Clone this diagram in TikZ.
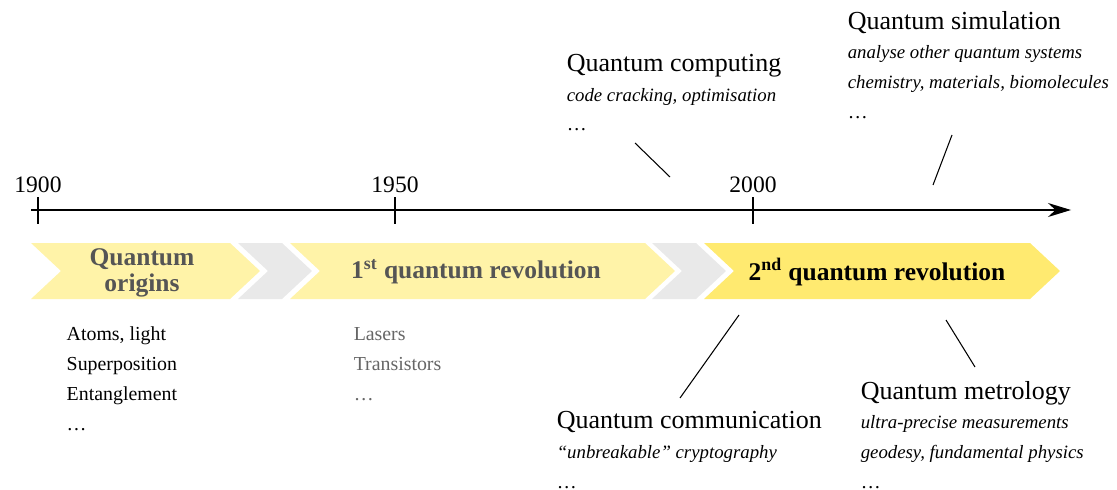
\documentclass[tikz,border=0pt]{standalone}
\usepackage{fontspec}
\setmainfont{Liberation Serif}
\usepackage[svgnames]{xcolor}
\usetikzlibrary{arrows.meta}
\definecolor{paleyellow}{HTML}{FFF3A8}
\definecolor{brightyellow}{HTML}{FFEA70}
\definecolor{chevgray}{HTML}{E9E9E9}
\definecolor{bandtext}{HTML}{555555}
\definecolor{oldtext}{HTML}{666666}

\begin{document}
\begin{tikzpicture}[x=0.2mm, y=-0.2mm, line width=0.85pt]
	\useasboundingbox (0,0) rectangle (1117,490);
	\tikzstyle{year} = [font=\fontsize{13.4}{16}\selectfont, anchor=base, inner sep=0pt]
	\tikzstyle{band} = [font=\bfseries\fontsize{14.5}{15}\selectfont, align=center, color=bandtext]
	\tikzstyle{item} = [font=\fontsize{11.3}{13}\selectfont, anchor=base west, inner sep=0pt]
	\tikzstyle{field} = [font=\fontsize{14.8}{17}\selectfont, anchor=base west, inner sep=0pt]
	\tikzstyle{note} = [font=\itshape\fontsize{10.7}{13}\selectfont, anchor=base west, inner sep=0pt]
	\tikzstyle{pointer} = [line width=0.6pt]
	% chevron band
	\foreach \xl/\xr/\col in {31/230/paleyellow, 238/282/chevgray, 290/645/paleyellow, 652/696/chevgray, 704/1030/brightyellow}
		\fill[\col] (\xl,243) -- (\xr,243) -- ++(30,28) -- (\xr,299) -- (\xl,299) -- ++(30,-28) -- cycle;
	\node[band] (origins) at (142,273) {Quantum\\origins};
	\node[band] (first) at (476,272) {1\textsuperscript{st} quantum revolution};
	\node[band, color=black] (second) at (877,272) {2\textsuperscript{nd} quantum revolution};
	% time axis
	\coordinate (axisstart) at (31,210);
	\coordinate (axisend) at (1071,210);
	\draw[-{Stealth[length=4.6mm,width=2.8mm]}] (axisstart) -- (axisend);
	\foreach \x/\yr in {38/1900, 395/1950, 753/2000} {
		\draw (\x,197) -- (\x,224);
		\node[year] (y\yr) at (\x,192) {\yr};
	}
	% early items
	\node[item] (atoms) at (66,340) {Atoms, light};
	\node[item] (superpos) at (66,370) {Superposition};
	\node[item] (entangle) at (66,400) {Entanglement};
	\node[item] (moreorigins) at (66,430) {\ldots};
	\node[item, color=oldtext] (lasers) at (353,340) {Lasers};
	\node[item, color=oldtext] (transistors) at (353,370) {Transistors};
	\node[item, color=oldtext] (morefirst) at (353,400) {\ldots};
	% quantum technologies
	\node[field] (computing) at (566,72) {Quantum computing};
	\node[note] (computing1) at (566,101) {code cracking, optimisation};
	\node[item] (computing2) at (566,130) {\ldots};
	\node[field] (simulation) at (847,30) {Quantum simulation};
	\node[note] (simulation1) at (847,59) {analyse other quantum systems};
	\node[note] (simulation2) at (847,88) {chemistry, materials, biomolecules};
	\node[item] (simulation3) at (847,119) {\ldots};
	\node[field] (communication) at (556,428) {Quantum communication};
	\node[note] (communication1) at (556,458) {“unbreakable” cryptography};
	\node[item] (communication2) at (556,488) {\ldots};
	\node[field] (metrology) at (860,399) {Quantum metrology};
	\node[note] (metrology1) at (860,428) {ultra-precise measurements};
	\node[note] (metrology2) at (860,458) {geodesy, fundamental physics};
	\node[item] (metrology3) at (860,488) {\ldots};
	% pointers
	\coordinate (comptop) at (635,143);
	\coordinate (compbot) at (670,177);
	\coordinate (simtop) at (952,135);
	\coordinate (simbot) at (933,185);
	\coordinate (commtop) at (739,315);
	\coordinate (commbot) at (680,398);
	\coordinate (mettop) at (946,320);
	\coordinate (metbot) at (975,367);
	\draw[pointer] (comptop) -- (compbot);
	\draw[pointer] (simtop) -- (simbot);
	\draw[pointer] (commtop) -- (commbot);
	\draw[pointer] (mettop) -- (metbot);
\end{tikzpicture}
\end{document}
